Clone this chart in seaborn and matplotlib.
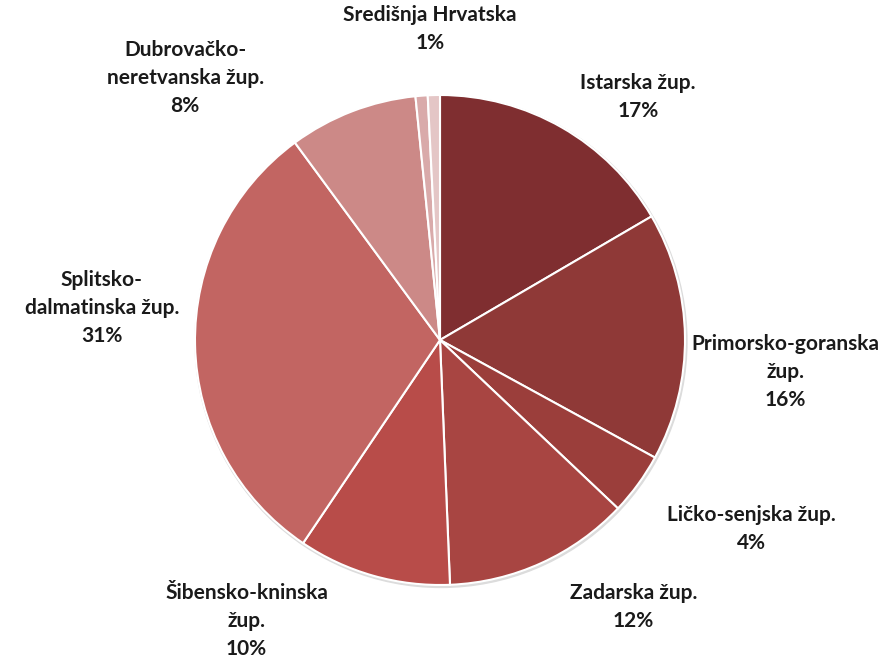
import matplotlib
matplotlib.use("Agg")
import matplotlib.pyplot as plt
import seaborn as sns

# share of each region, clockwise from 12 o'clock
regions = ["Istarska žup.", "Primorsko-goranska\nžup.", "Ličko-senjska žup.",
           "Zadarska žup.", "Šibensko-kninska\nžup.", "Splitsko-\ndalmatinska žup.",
           "Dubrovačko-\nneretvanska žup.", "Središnja Hrvatska", ""]
shares = [16.6, 16.4, 4.1, 12.3, 10.1, 30.5, 8.5, 0.8, 0.8]
pct_labels = ["17%", "16%", "4%", "12%", "10%", "31%", "8%", "1%", ""]
colors = ["#7f2e30", "#8f3937", "#9b3e3b", "#a84542", "#b84c49",
          "#c26562", "#cc8987", "#d9aaaa", "#e4c6c6"]

# label centres, in pie radii relative to the pie centre
label_xy = [(0.808, 0.99), (1.41, -0.13), (1.27, -0.77), (0.79, -1.09),
            (-0.79, -1.145), (-1.38, 0.13), (-1.04, 1.07), (-0.04, 1.27), None]

sns.set_theme(style="white")
plt.rcParams["font.family"] = ["Lato", "DejaVu Sans"]

fig = plt.figure(figsize=(8.89, 6.63), dpi=100)
ax = fig.add_axes([0, 0, 1, 1])

# faint shadow ring
shadow = plt.Circle((0.004, -0.006), 1.004, color="#dcdcdc", zorder=0)
ax.add_patch(shadow)

ax.pie(shares, colors=colors, startangle=90, counterclock=False, radius=1.0,
       wedgeprops=dict(edgecolor="white", linewidth=1.5))

for name, pct, xy in zip(regions, pct_labels, label_xy):
    if xy is None:
        continue
    ax.text(xy[0], xy[1], f"{name}\n{pct}", ha="center", va="center",
            fontsize=15, fontweight="bold", color="#1a1a1a", linespacing=1.5)

ax.set_xlim(-440 / 245, 449 / 245)
ax.set_ylim(-323 / 245, 340 / 245)
ax.set_aspect("equal")
ax.axis("off")

fig.savefig("out.png", dpi=100, facecolor="white")
